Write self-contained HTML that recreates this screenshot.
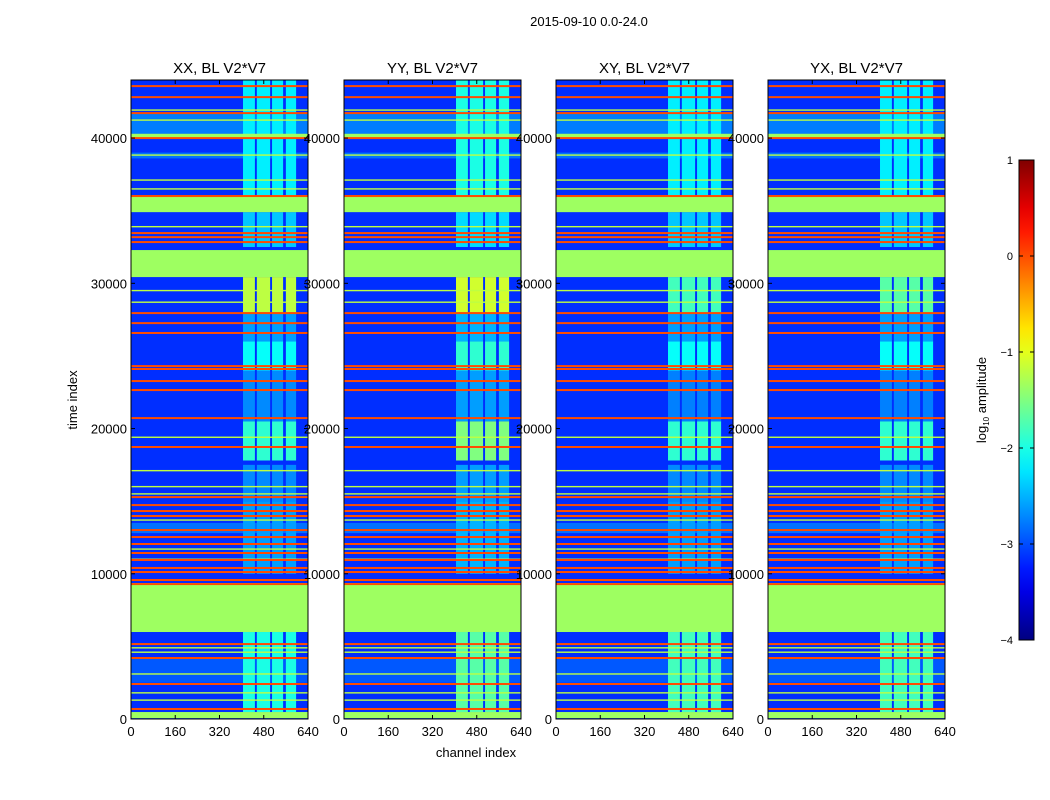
<!DOCTYPE html>
<html><head><meta charset="utf-8">
<style>
body{margin:0;background:#fff;}
svg{display:block;font-family:"Liberation Sans",sans-serif;}
</style></head>
<body>
<svg id="fig" width="1050" height="800" viewBox="0 0 1050 800" xmlns="http://www.w3.org/2000/svg">
<rect width="1050" height="800" fill="#fff"/>
<text x="589" y="26" font-size="13" text-anchor="middle">2015-09-10 0.0-24.0</text>
<text x="476" y="757" font-size="13" text-anchor="middle">channel index</text>
<text transform="translate(77,400) rotate(-90)" font-size="13" text-anchor="middle">time index</text>
<g id="panels"></g>
<g id="cbar"></g>
<text transform="translate(986,400) rotate(-90)" font-size="13" text-anchor="middle">log<tspan font-size="8" dy="3">10</tspan><tspan dy="-3"> amplitude</tspan></text>
</svg>
<script>
// ---- data ----
const panelTitles = ["XX, BL V2*V7","YY, BL V2*V7","XY, BL V2*V7","YX, BL V2*V7"];
const backgroundValue = -3.15;
// flagged (green) time bands
const flagStarts = [40000, 34900, 30430, 5990, 60];
const flagEnds   = [40300, 35950, 32290, 9360, 480];
const flagValue = -1.35;
// lighter cyan row bands
const lightStarts = [40300, 12800, 2500, 38600];
const lightEnds   = [41700, 13500, 4200, 39000];
const lightValues = [-2.5, -2.6, -2.8, -2.6];
// orange/red lines
const redTimes = [43580,42820,41720,40000,36010,33460,33180,32840,27950,27260,26580,24300,24100,23270,22650,20720,18730,15280,14730,14320,13980,13010,12530,12050,11430,10950,10400,10120,9570,9290,5160,4200,2410,690];
const redValue = 0.0;
// yellow-green lines
const ygTimes = [41930,41240,38830,37110,36500,33900,29500,28700,19400,17100,16000,15500,13700,11700,11000,4900,4600,3100,1800,1300];
const ygValue = -1.2;
// stripe channel ranges
const stripeStarts = [405, 455, 510, 560];
const stripeEnds   = [448, 503, 550, 597];
// stripe time segments & values
const segStarts = [480, 10000, 15000, 17800, 20500, 24000, 26000, 28000, 32500, 36000];
const segEnds   = [5990, 15000, 17500, 20500, 24000, 26000, 28000, 30430, 34900, 44000];
const segValuesXX = [-2.0,-2.6,-2.7,-1.9,-2.7,-2.1,-2.6,-1.2,-2.4,-2.2];
const segValuesYY = [-1.7,-2.5,-2.6,-1.5,-2.6,-1.9,-2.5,-1.1,-2.3,-2.0];
const segValuesXY = [-1.8,-2.6,-2.7,-1.9,-2.75,-2.1,-2.6,-1.8,-2.4,-2.2];
const segValuesYX = [-1.8,-2.6,-2.7,-1.9,-2.75,-2.1,-2.6,-1.7,-2.4,-2.2];
const panelSegValues = [segValuesXX, segValuesYY, segValuesXY, segValuesYX];
const xTicks = [0,160,320,480,640];
const yTicks = [0,10000,20000,30000,40000];
const cbTicks = [1,0,-1,-2,-3,-4];
const cbLabels = ["1","0","\u22121","\u22122","\u22123","\u22124"];

// ---- layout ----
const NS="http://www.w3.org/2000/svg";
const panelLefts=[131,344,556,768], PW=177, plotTop=80, plotBottom=719;
const tMax=44000, cMax=640, vMin=-4, vMax=1;
function clamp(v){return Math.max(0,Math.min(1,v));}
function jet(v){const x=(v-vMin)/(vMax-vMin);
 const r=clamp(1.5-Math.abs(4*x-3)),g=clamp(1.5-Math.abs(4*x-2)),b=clamp(1.5-Math.abs(4*x-1));
 return `rgb(${Math.round(r*255)},${Math.round(g*255)},${Math.round(b*255)})`;}
function mk(tag,attrs,parent){const e=document.createElementNS(NS,tag);for(const k in attrs)e.setAttribute(k,attrs[k]);parent.appendChild(e);return e;}
const panelsG=document.getElementById('panels');

panelTitles.forEach((title,p)=>{
 const x0=panelLefts[p];
 const xs=c=>x0+c/cMax*PW;
 const ys=t=>plotBottom-t/tMax*(plotBottom-plotTop);
 const g=mk('g',{},panelsG);
 
 
 const bg=mk('rect',{x:x0,y:plotTop,width:PW,height:plotBottom-plotTop,fill:jet(backgroundValue)},g);
 
 
 lightStarts.forEach((s,i)=>{
  const r=mk('rect',{x:x0,y:ys(lightEnds[i]),width:PW,height:ys(s)-ys(lightEnds[i]),fill:jet(lightValues[i]),opacity:0.6},g);
  
  
 });
 const vals=panelSegValues[p];
 segStarts.forEach((s,i)=>{
  stripeStarts.forEach((c,j)=>{
   const r=mk('rect',{x:xs(c),y:ys(segEnds[i]),width:xs(stripeEnds[j])-xs(c),height:ys(s)-ys(segEnds[i]),fill:jet(vals[i])},g);
   
   
  });
 });
 ygTimes.forEach(t=>{
  const r=mk('rect',{x:x0,y:ys(t)-0.7,width:PW,height:1.4,fill:jet(ygValue)},g);
  
  
 });
 flagStarts.forEach((s,i)=>{
  const r=mk('rect',{x:x0,y:ys(flagEnds[i]),width:PW,height:ys(s)-ys(flagEnds[i]),fill:jet(flagValue)},g);
  
  
 });
 redTimes.forEach(t=>{
  const r=mk('rect',{x:x0,y:ys(t)-1,width:PW,height:2,fill:jet(redValue)},g);
  
  
 });
 const fr=mk('rect',{x:x0,y:plotTop,width:PW,height:plotBottom-plotTop,fill:'none',stroke:'#000','stroke-width':1},g);
 
 
 const tt=mk('text',{x:x0+PW/2,y:73,'font-size':15,'text-anchor':'middle'},g);
 tt.textContent=title;
 
 
 xTicks.forEach(v=>{
  const x=xs(v);
  mk('line',{x1:x,x2:x,y1:plotBottom,y2:plotBottom-4,stroke:'#000'},g);
  mk('line',{x1:x,x2:x,y1:plotTop,y2:plotTop+4,stroke:'#000'},g);
  const t=mk('text',{x:x,y:plotBottom+17,'font-size':13,'text-anchor':'middle'},g);
  t.textContent=v;
  
  
 });
 yTicks.forEach(v=>{
  const y=ys(v);
  mk('line',{x1:x0,x2:x0+4,y1:y,y2:y,stroke:'#000'},g);
  mk('line',{x1:x0+PW,x2:x0+PW-4,y1:y,y2:y,stroke:'#000'},g);
  const t=mk('text',{x:x0-4,y:y+5,'font-size':13,'text-anchor':'end'},g);
  t.textContent=v;
  
  
 });
});

// colorbar
const cb=document.getElementById('cbar');
const cbX=1019,cbW=15,cbT=160,cbB=640;
const defs=mk('defs',{},cb);
const grad=mk('linearGradient',{id:'jetg',x1:0,y1:1,x2:0,y2:0},defs);
for(let i=0;i<=20;i++){mk('stop',{offset:i/20,'stop-color':jet(vMin+(vMax-vMin)*i/20)},grad);}
mk('rect',{x:cbX,y:cbT,width:cbW,height:cbB-cbT,fill:'url(#jetg)',stroke:'#000'},cb);
cbTicks.forEach((v,i)=>{
 const y=cbB-(v-vMin)/(vMax-vMin)*(cbB-cbT);
 mk('line',{x1:cbX,x2:cbX+4,y1:y,y2:y,stroke:'#000'},cb);
 mk('line',{x1:cbX+cbW,x2:cbX+cbW-4,y1:y,y2:y,stroke:'#000'},cb);
 const t=mk('text',{x:cbX-6,y:y+4,'font-size':11,'text-anchor':'end'},cb);
 t.textContent=cbLabels[i];
 
 
});
</script>
</body></html>
